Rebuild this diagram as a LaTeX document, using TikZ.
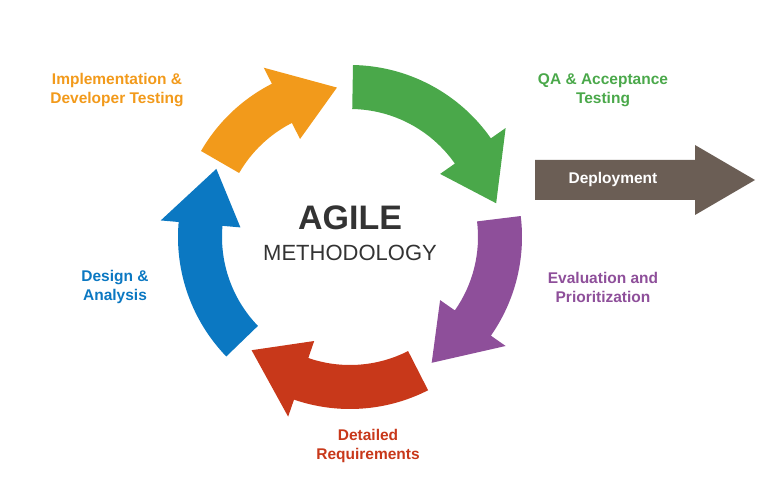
\documentclass[tikz,border=0pt]{standalone}
\usepackage{fontspec}
\setmainfont{Liberation Sans}
\usetikzlibrary{calc}
\definecolor{cOr}{HTML}{F29A1B}
\definecolor{cGr}{HTML}{4AA84A}
\definecolor{cPu}{HTML}{8E4F9A}
\definecolor{cRe}{HTML}{C8381A}
\definecolor{cBl}{HTML}{0B78C2}
\definecolor{cBr}{HTML}{6B5E55}
\begin{document}
\begin{tikzpicture}[x=1pt,y=1pt,
  lbl/.style={font=\fontsize{15.5}{19}\selectfont\bfseries,align=center}]
\useasboundingbox (0,0) rectangle (780,501);
\coordinate (c) at (350,264);
\newcommand\cycarrow[4]{% color, start, end, tip
  \fill[#1] ($(c)+(#2:172)$) arc[start angle=#2,end angle=#3,radius=172]
    -- ($(c)+(#3:190)$) -- ($(c)+(#4:150)$) -- ($(c)+(#3:110)$)
    -- ($(c)+(#3:128)$) arc[start angle=#3,end angle=#2,radius=128] -- cycle;}
\cycarrow{cOr}{150}{117}{95}
\cycarrow{cGr}{89}{35}{13}
\cycarrow{cPu}{7}{-35}{-57}
\cycarrow{cRe}{-63}{-109}{-131}
\cycarrow{cBl}{224}{175}{153}
\fill[cBr] (535,301) -- (695,301) -- (695,286) -- (755,321) -- (695,356) -- (695,341) -- (535,341) -- cycle;
\node[lbl,text=white] (dep) at (613,322) {Deployment};
\node[font=\fontsize{34}{40}\selectfont\bfseries,text=black!80] (agile) at (350,283) {AGILE};
\node[font=\fontsize{22}{26}\selectfont,text=black!80] (meth) at (350,248) {METHODOLOGY};
\node[lbl,text=cOr] (l1) at (117,411) {Implementation \&\\Developer Testing};
\node[lbl,text=cGr] (l2) at (603,411) {QA \& Acceptance\\Testing};
\node[lbl,text=cPu] (l3) at (603,214) {Evaluation and\\Prioritization};
\node[lbl,text=cRe] (l4) at (368,55) {Detailed\\Requirements};
\node[lbl,text=cBl] (l5) at (115,214) {Design \&\\Analysis};
\end{tikzpicture}
\end{document}
